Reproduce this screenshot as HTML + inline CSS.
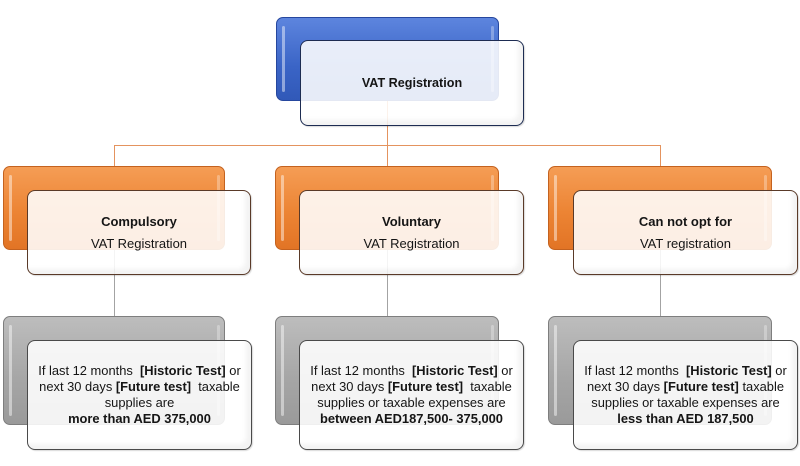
<!DOCTYPE html>
<html><head><meta charset="utf-8"><style>
html,body{margin:0;padding:0;background:#fff;}
body{width:800px;height:466px;position:relative;overflow:hidden;font-family:"Liberation Sans",Arial,sans-serif;color:#151515;}
.l{position:absolute;}
.back{position:absolute;border-radius:7px;box-sizing:border-box;}
.back::before{content:"";position:absolute;left:5px;top:8px;bottom:8px;width:3px;border-radius:2px;background:rgba(255,255,255,0.45);}
.back::after{content:"";position:absolute;right:4px;top:8px;bottom:8px;width:3px;border-radius:2px;background:rgba(255,255,255,0.3);}
.blue{background:linear-gradient(#5d85de,#3a64c6 60%,#3159b8);border:1px solid #26479e;}
.orange{background:linear-gradient(#f59d55,#ec8434 55%,#e27425);border:1px solid #c4621f;}
.gray{background:linear-gradient(#bdbdbd,#a5a5a5 60%,#9a9a9a);border:1px solid #7e7e7e;}
.front{position:absolute;border-radius:8px;box-sizing:border-box;background:rgba(255,255,255,0.88);box-shadow:inset -5px -5px 5px rgba(0,0,0,0.05),1px 1px 1px rgba(0,0,0,0.15);display:flex;align-items:center;justify-content:center;text-align:center;}
.fb{border:1.5px solid #1d2c52;}
.fo{border:1.5px solid #5a3a28;}
.fg{border:1.5px solid #4a4a4a;}
.t1{font-size:12.6px;font-weight:bold;}
.t2{font-size:13px;line-height:22px;}
.t3{font-size:12.9px;line-height:16px;white-space:nowrap;}
b{font-weight:bold;}
</style></head><body>
<!-- connectors -->
<div class="l" style="left:386.5px;top:100px;width:1px;height:66px;background:#e4935e;"></div>
<div class="l" style="left:114px;top:145px;width:547px;height:1px;background:#e4935e;"></div>
<div class="l" style="left:114px;top:145px;width:1px;height:21px;background:#e4935e;"></div>
<div class="l" style="left:660px;top:145px;width:1px;height:21px;background:#e4935e;"></div>
<div class="l" style="left:114px;top:250px;width:1px;height:66px;background:#a3a3a3;"></div>
<div class="l" style="left:387px;top:250px;width:1px;height:66px;background:#a3a3a3;"></div>
<div class="l" style="left:660px;top:250px;width:1px;height:66px;background:#a3a3a3;"></div>

<!-- top -->
<div class="back blue" style="left:276px;top:17px;width:223px;height:84px;"></div>
<div class="front fb" style="left:300px;top:40px;width:224px;height:86px;"><div class="t1">VAT Registration</div></div>

<!-- orange row -->
<div class="back orange" style="left:3px;top:166px;width:222px;height:84px;"></div>
<div class="front fo" style="left:27px;top:190px;width:224px;height:85px;"><div class="t2"><b>Compulsory</b><br>VAT Registration</div></div>

<div class="back orange" style="left:275px;top:166px;width:224px;height:84px;"></div>
<div class="front fo" style="left:299px;top:190px;width:225px;height:85px;"><div class="t2"><b>Voluntary</b><br>VAT Registration</div></div>

<div class="back orange" style="left:548px;top:166px;width:224px;height:84px;"></div>
<div class="front fo" style="left:573px;top:190px;width:225px;height:85px;"><div class="t2"><b>Can not opt for</b><br>VAT registration</div></div>

<!-- gray row -->
<div class="back gray" style="left:3px;top:316px;width:222px;height:109px;"></div>
<div class="front fg" style="left:27px;top:340px;width:225px;height:110px;"><div class="t3">If last 12 months&nbsp; <b>[Historic Test]</b> or<br>next 30 days <b>[Future test]</b>&nbsp; taxable<br>supplies are<br><b>more than AED 375,000</b></div></div>

<div class="back gray" style="left:275px;top:316px;width:224px;height:109px;"></div>
<div class="front fg" style="left:299px;top:340px;width:225px;height:110px;"><div class="t3">If last 12 months&nbsp; <b>[Historic Test]</b> or<br>next 30 days <b>[Future test]</b>&nbsp; taxable<br>supplies or taxable expenses are<br><b>between AED187,500- 375,000</b></div></div>

<div class="back gray" style="left:548px;top:316px;width:224px;height:109px;"></div>
<div class="front fg" style="left:573px;top:340px;width:225px;height:110px;"><div class="t3">If last 12 months&nbsp; <b>[Historic Test]</b> or<br>next 30 days <b>[Future test]</b> taxable<br>supplies or taxable expenses are<br><b>less than AED 187,500</b></div></div>
</body></html>
